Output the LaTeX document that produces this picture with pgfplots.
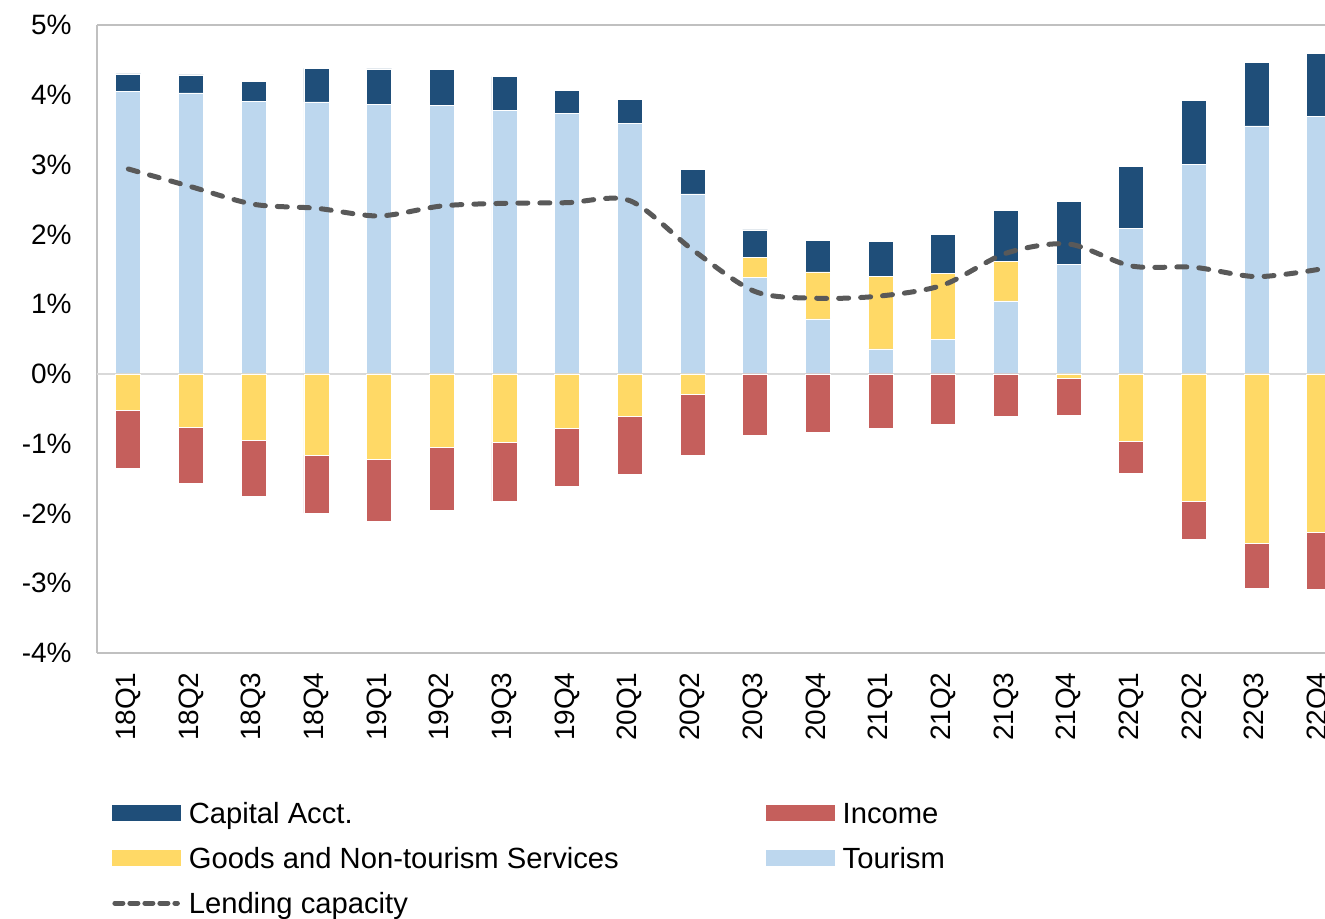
\documentclass[border=0pt]{standalone}
\usepackage{pgfplots}
\pgfplotsset{compat=1.18}
\usepackage{fontspec}
\setmainfont{Liberation Sans}
\definecolor{capc}{HTML}{1F4E79}
\definecolor{incc}{HTML}{C55F5C}
\definecolor{gdsc}{HTML}{FFD966}
\definecolor{tourc}{HTML}{BDD7EE}
\definecolor{linec}{HTML}{595959}
\definecolor{framec}{HTML}{C0C0C0}
\definecolor{zeroc}{HTML}{D9D9D9}
\pgfplotsset{
  base/.style={scale only axis, width=614pt, height=314pt,
    xmin=-0.5, xmax=19.09, ymin=-4, ymax=5,
    at={(48.5pt,-326.5pt)}, anchor=south west},
  bars/.style={base, hide axis, ybar stacked, bar width=12.5pt},
  seg/.style={fill=#1, draw=white, line width=0.4pt},
}
\begin{document}
\begin{tikzpicture}
\path[use as bounding box] (0,0) rectangle (662.5pt,-459pt);
\clip (0,0) rectangle (662.5pt,-459pt);
% frame and tick labels
\begin{axis}[base,
  axis x line*=box, axis y line*=left,
  axis line style={-, draw=framec, line width=1pt},
  xtick={0,...,19},
  xticklabels={18Q1,18Q2,18Q3,18Q4,19Q1,19Q2,19Q3,19Q4,20Q1,20Q2,20Q3,20Q4,21Q1,21Q2,21Q3,21Q4,22Q1,22Q2,22Q3,22Q4},
  ytick={-4,-3,-2,-1,0,1,2,3,4,5},
  yticklabels={-4\%,-3\%,-2\%,-1\%,0\%,1\%,2\%,3\%,4\%,5\%},
  major tick length=0pt,
  tick label style={font=\fontsize{14pt}{17pt}\selectfont},
  xticklabel style={rotate=90, anchor=east, inner sep=0pt},
  xticklabel shift=9.5pt,
  yticklabel style={anchor=east, inner sep=0pt},
  yticklabel shift=12.5pt,
]
\end{axis}
% positive stack
\begin{axis}[bars]
\addplot[seg=tourc] coordinates {(0,4.045) (1,4.026) (2,3.911) (3,3.897) (4,3.864) (5,3.844) (6,3.782) (7,3.729) (8,3.591) (9,2.579) (10,1.380) (11,0.788) (12,0.358) (13,0.50) (14,1.046) (15,1.566) (16,2.087) (17,3.004) (18,3.553) (19,3.692)};
\addplot[seg=gdsc] coordinates {(0,0) (1,0) (2,0) (3,0) (4,0) (5,0) (6,0) (7,0) (8,0) (9,0) (10,0.292) (11,0.673) (12,1.04) (13,0.94) (14,0.563) (15,0) (16,0) (17,0) (18,0) (19,0)};
\addplot[seg=capc] coordinates {(0,0.254) (1,0.258) (2,0.277) (3,0.483) (4,0.506) (5,0.516) (6,0.477) (7,0.339) (8,0.344) (9,0.348) (10,0.391) (11,0.458) (12,0.496) (13,0.563) (14,0.736) (15,0.903) (16,0.888) (17,0.917) (18,0.912) (19,0.903)};
\end{axis}
% negative stack
\begin{axis}[bars]
\addplot[seg=gdsc] coordinates {(0,-0.52) (1,-0.769) (2,-0.95) (3,-1.165) (4,-1.218) (5,-1.05) (6,-0.979) (7,-0.774) (8,-0.602) (9,-0.291) (10,0) (11,0) (12,0) (13,0) (14,0) (15,-0.067) (16,-0.96) (17,-1.829) (18,-2.431) (19,-2.268)};
\addplot[seg=incc] coordinates {(0,-0.827) (1,-0.802) (2,-0.812) (3,-0.831) (4,-0.893) (5,-0.903) (6,-0.851) (7,-0.831) (8,-0.831) (9,-0.87) (10,-0.884) (11,-0.841) (12,-0.774) (13,-0.72) (14,-0.606) (15,-0.524) (16,-0.463) (17,-0.544) (18,-0.639) (19,-0.827)};
\draw[zeroc, line width=1pt] (axis cs:-0.5,0) -- (axis cs:19.09,0);
\end{axis}
% line and legend
\begin{axis}[base, hide axis,
  legend columns=2,
  legend cell align=left,
  legend style={at={(axis description cs:0,0)}, anchor=north west,
    xshift=7.5pt, yshift=-73pt, draw=none, fill=none, inner sep=0pt, outer sep=0pt,
    font=\fontsize{14.6pt}{17.5pt}\selectfont, row sep=8.5pt,
    nodes={inner sep=0pt, text height=12pt, text depth=2pt},
    /tikz/every odd column/.append style={column sep=4pt},
    /tikz/every even column/.append style={column sep=73.5pt}},
]
\addplot[linec, line width=2.5pt, dash pattern=on 5pt off 6pt, line cap=round, smooth, tension=0.5, forget plot] coordinates {(0,2.937) (1,2.683) (2,2.431) (3,2.374) (4,2.264) (5,2.407) (6,2.445) (7,2.454) (8,2.483) (9,1.78) (10,1.18) (11,1.084) (12,1.117) (13,1.275) (14,1.729) (15,1.862) (16,1.547) (17,1.528) (18,1.394) (19,1.50)};
\addlegendimage{legend image code/.code={\path[draw=none,fill=none] (0pt,-3.75pt) rectangle (34pt,3.75pt); \fill[capc] (0pt,-3.75pt) rectangle (34pt,3.75pt);}}
\addlegendimage{legend image code/.code={\path[draw=none,fill=none] (0pt,-3.75pt) rectangle (34pt,3.75pt); \fill[incc] (0pt,-3.75pt) rectangle (34pt,3.75pt);}}
\addlegendimage{legend image code/.code={\path[draw=none,fill=none] (0pt,-3.75pt) rectangle (34pt,3.75pt); \fill[gdsc] (0pt,-3.75pt) rectangle (34pt,3.75pt);}}
\addlegendimage{legend image code/.code={\path[draw=none,fill=none] (0pt,-3.75pt) rectangle (34pt,3.75pt); \fill[tourc] (0pt,-3.75pt) rectangle (34pt,3.75pt);}}
\addlegendimage{legend image code/.code={\path[draw=none,fill=none] (0pt,-3.75pt) rectangle (34pt,3.75pt); \draw[linec, line width=2.5pt, dash pattern=on 4pt off 3.5pt, line cap=round] (1.25pt,0pt) -- (32.5pt,0pt);}}
\legend{Capital Acct., Income, Goods and Non-tourism Services, Tourism, Lending capacity}
\end{axis}
\end{tikzpicture}
\end{document}
